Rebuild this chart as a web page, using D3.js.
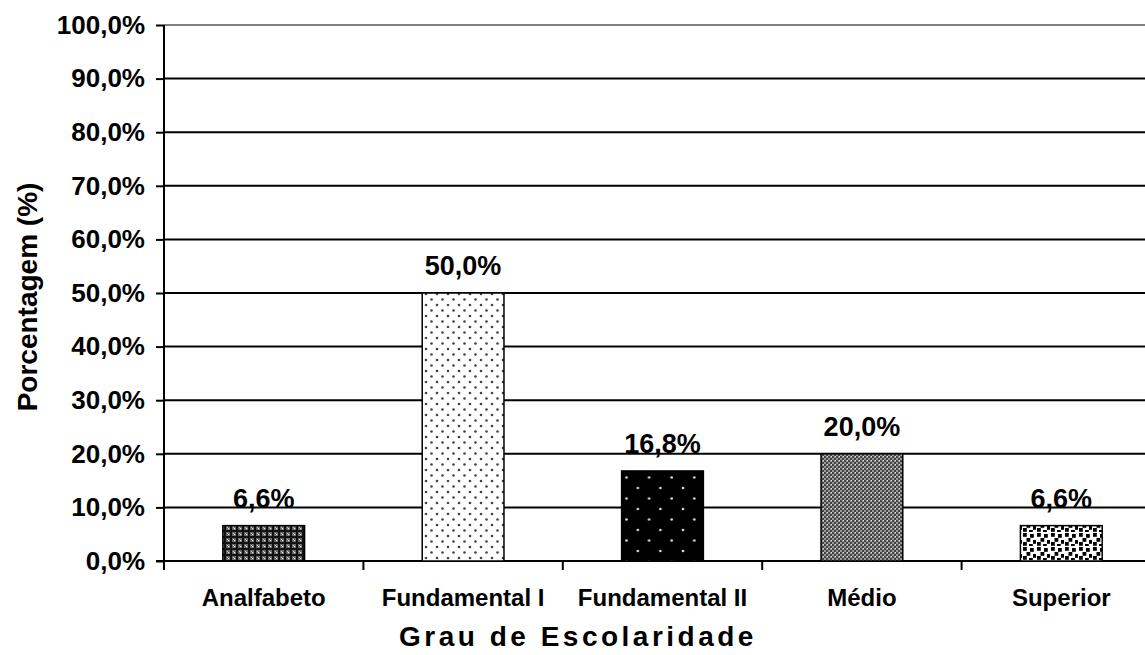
<!DOCTYPE html>
<html>
<head>
<meta charset="utf-8">
<script src="https://cdn.jsdelivr.net/npm/d3@7"></script>
<style>
  html, body { margin: 0; padding: 0; background: #fff; }
  svg { display: block; font-family: "Liberation Sans", Arial, sans-serif; }
</style>
</head>
<body>
<svg id="chart" width="1145" height="655"></svg>
<script>
// Education level distribution
const categories = ["Analfabeto", "Fundamental I", "Fundamental II", "Médio", "Superior"];
const values = [6.6, 50.0, 16.8, 20.0, 6.6];
const yTicks = [0, 10, 20, 30, 40, 50, 60, 70, 80, 90, 100];
const patternIds = ["pAnalf", "pFundI", "pFundII", "pMedio", "pSup"];

const fmt = v => v.toFixed(1).replace(".", ",") + "%";

const svg = d3.select("#chart");
const x0 = 164, x1 = 1161, yTop = 25, yBot = 561;

const x = d3.scaleBand().domain(categories).range([x0, x1]).paddingInner(0.59).paddingOuter(0.295);
const y = d3.scaleLinear().domain([0, 100]).range([yBot, yTop]);

// Fill patterns for the bars
const defs = svg.append("defs");

// Analfabeto: dark crosshatch with light dots
let p = defs.append("pattern").attr("id", "pAnalf").attr("patternUnits", "userSpaceOnUse").attr("width", 6).attr("height", 6);
p.append("rect").attr("width", 6).attr("height", 6).attr("fill", "#6a6a6a");
p.append("rect").attr("x", 2).attr("y", 0).attr("width", 2).attr("height", 6).attr("fill", "#111");
p.append("rect").attr("x", 0).attr("y", 2).attr("width", 6).attr("height", 2).attr("fill", "#111");
p.append("rect").attr("x", 0).attr("y", 0).attr("width", 1.2).attr("height", 1.2).attr("fill", "#eee");
p.append("rect").attr("x", 5).attr("y", 5).attr("width", 1).attr("height", 1).attr("fill", "#bbb");

// Fundamental I: sparse dark dots on white
p = defs.append("pattern").attr("id", "pFundI").attr("patternUnits", "userSpaceOnUse").attr("width", 11).attr("height", 11);
p.append("rect").attr("width", 11).attr("height", 11).attr("fill", "#fff");
p.append("circle").attr("cx", 2.5).attr("cy", 2.5).attr("r", 1.3).attr("fill", "#444");
p.append("circle").attr("cx", 8).attr("cy", 8).attr("r", 1.3).attr("fill", "#444");

// Fundamental II: white dots on black
p = defs.append("pattern").attr("id", "pFundII").attr("patternUnits", "userSpaceOnUse").attr("width", 22.6).attr("height", 21);
p.append("rect").attr("width", 22.6).attr("height", 21).attr("fill", "#000");
p.append("circle").attr("cx", 5).attr("cy", 5).attr("r", 1.3).attr("fill", "#ddd");
p.append("circle").attr("cx", 16.3).attr("cy", 15.5).attr("r", 1.3).attr("fill", "#ddd");

// Médio: fine gray checkerboard
p = defs.append("pattern").attr("id", "pMedio").attr("patternUnits", "userSpaceOnUse").attr("width", 4).attr("height", 4);
p.append("rect").attr("width", 4).attr("height", 4).attr("fill", "#9a9a9a");
p.append("rect").attr("x", 0).attr("y", 0).attr("width", 2).attr("height", 2).attr("fill", "#444");
p.append("rect").attr("x", 2).attr("y", 2).attr("width", 2).attr("height", 2).attr("fill", "#444");
p.append("rect").attr("x", 3).attr("y", 0).attr("width", 1).attr("height", 1).attr("fill", "#ddd");

// Superior: black squares on white
p = defs.append("pattern").attr("id", "pSup").attr("patternUnits", "userSpaceOnUse").attr("width", 14).attr("height", 14);
p.append("rect").attr("width", 14).attr("height", 14).attr("fill", "#fff");
[[1, 1], [8, 2], [4.5, 6], [11, 8], [1, 10], [7, 12]].forEach(([a, b]) => {
  p.append("rect").attr("x", a).attr("y", b).attr("width", 3.8).attr("height", 3.8).attr("fill", "#000");
});

// Horizontal gridlines (top one is gray)
svg.append("g").selectAll("line").data(yTicks.filter(t => t > 0)).join("line")
  .attr("x1", x0).attr("x2", 1145)
  .attr("y1", d => y(d)).attr("y2", d => y(d))
  .attr("stroke", d => d === 100 ? "#808080" : "#000")
  .attr("stroke-width", 2);

// Y axis
const yAxis = d3.axisLeft(y).tickValues(yTicks).tickFormat(fmt).tickSize(8).tickPadding(11);
const gy = svg.append("g").attr("transform", `translate(${x0},0)`).call(yAxis);
gy.select(".domain").attr("stroke", "#000").attr("stroke-width", 2).attr("d", `M0,${yTop}V${yBot}`);
gy.selectAll(".tick line").attr("stroke", "#000").attr("stroke-width", 2);
gy.selectAll(".tick text").attr("font-size", 26).attr("font-weight", "bold").attr("fill", "#000")
  .attr("font-family", "Liberation Sans, Arial, sans-serif");

// X axis with ticks between categories
svg.append("line").attr("x1", x0 - 8).attr("x2", 1145).attr("y1", yBot).attr("y2", yBot)
  .attr("stroke", "#000").attr("stroke-width", 2);
const step = x.step();
const boundaries = d3.range(0, categories.length + 1).map(i => x0 + i * step);
svg.append("g").selectAll("line").data(boundaries).join("line")
  .attr("x1", d => d).attr("x2", d => d)
  .attr("y1", yBot).attr("y2", yBot + 9)
  .attr("stroke", "#000").attr("stroke-width", 2);

svg.append("g").selectAll("text").data(categories).join("text")
  .attr("x", d => x(d) + x.bandwidth() / 2)
  .attr("y", 606)
  .attr("text-anchor", "middle")
  .attr("font-size", 24).attr("font-weight", "bold")
  .text(d => d);

// Bars
svg.append("g").selectAll("rect").data(categories).join("rect")
  .attr("x", d => x(d))
  .attr("width", x.bandwidth())
  .attr("y", (d, i) => y(values[i]))
  .attr("height", (d, i) => yBot - y(values[i]))
  .attr("fill", (d, i) => `url(#${patternIds[i]})`)
  .attr("stroke", "#000").attr("stroke-width", 1.5);

// Value labels
svg.append("g").selectAll("text").data(categories).join("text")
  .attr("x", d => x(d) + x.bandwidth() / 2)
  .attr("y", (d, i) => y(values[i]) - 18)
  .attr("text-anchor", "middle")
  .attr("font-size", 27).attr("font-weight", "bold")
  .text((d, i) => fmt(values[i]));

// Axis titles
svg.append("text").attr("x", 578).attr("y", 646)
  .attr("text-anchor", "middle").attr("font-size", 28).attr("font-weight", "bold")
  .attr("letter-spacing", 3.5).text("Grau de Escolaridade");

svg.append("text").attr("transform", "translate(37,297) rotate(-90)")
  .attr("text-anchor", "middle").attr("font-size", 28).attr("font-weight", "bold")
  .text("Porcentagem (%)");
</script>
</body>
</html>
